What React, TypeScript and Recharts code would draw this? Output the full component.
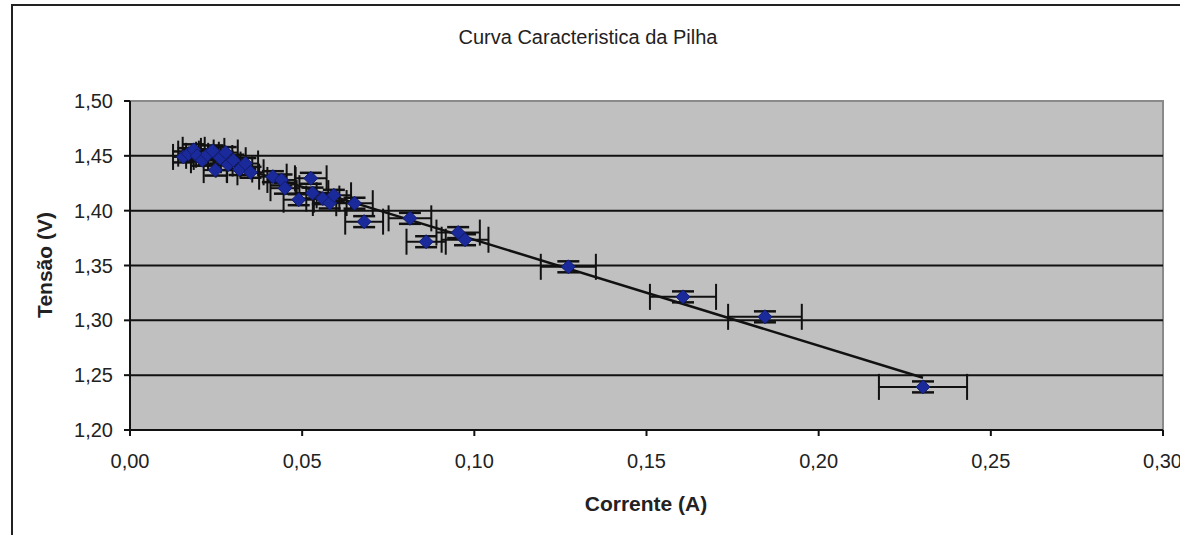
import React from 'react';
import {
  ScatterChart,
  Scatter,
  XAxis,
  YAxis,
  CartesianGrid,
  ErrorBar,
  ReferenceLine,
  ReferenceArea,
} from 'recharts';

// ---- data ----
const current = [
  0.0155, 0.017, 0.0185, 0.0195, 0.021, 0.0225, 0.024, 0.0248, 0.0262, 0.0278,
  0.0285, 0.03, 0.0318, 0.0335, 0.035, 0.0415, 0.044, 0.045, 0.049, 0.0525,
  0.053, 0.056, 0.058, 0.0592, 0.0652, 0.068, 0.0813, 0.086, 0.0953, 0.0973,
  0.1273, 0.1606, 0.1844, 0.2303,
];
const voltage = [
  1.449, 1.452, 1.4555, 1.45, 1.446, 1.451, 1.4545, 1.437, 1.448, 1.453,
  1.442, 1.446, 1.4375, 1.443, 1.435, 1.431, 1.428, 1.4205, 1.41, 1.4295,
  1.416, 1.411, 1.407, 1.414, 1.4068, 1.39, 1.393, 1.3717, 1.38, 1.3735,
  1.3488, 1.3214, 1.3032, 1.2393,
];
const currentError = [
  0.003, 0.003, 0.0032, 0.0032, 0.0033, 0.0033, 0.0034, 0.0034, 0.0035, 0.0035,
  0.0036, 0.0036, 0.0037, 0.0037, 0.0038, 0.004, 0.0041, 0.0042, 0.0044, 0.0046,
  0.0046, 0.0048, 0.0049, 0.005, 0.0053, 0.0055, 0.0062, 0.0057, 0.0063, 0.0068,
  0.008, 0.0096, 0.0107, 0.0128,
];
const voltageError = [0.005];
const trendCurrent = [0.0155, 0.2303];
const trendVoltage = [1.4551, 1.2476];
const xTicks = [0, 0.05, 0.1, 0.15, 0.2, 0.25, 0.3];
const yTicks = [1.2, 1.25, 1.3, 1.35, 1.4, 1.45, 1.5];
const gridValues = [1.25, 1.3, 1.35, 1.4, 1.45];
const title = 'Curva Caracteristica da Pilha';
const xLabel = 'Corrente (A)';
const yLabel = 'Tensão (V)';

const points = current.map((x, i) => ({
  x,
  y: voltage[i],
  ex: currentError[i],
  ey: voltageError[0],
}));
const trend = trendCurrent.map((x, i) => ({ x, y: trendVoltage[i] }));

const FONT = '"Liberation Sans", Arial, Helvetica, sans-serif';
const fmt = (v: number) => v.toFixed(2).replace('.', ',');

const Diamond = (props: any) => {
  const { cx, cy } = props;
  if (cx == null || cy == null) return <g />;
  const r = 7;
  return (
    <path
      d={`M${cx},${cy - r} L${cx + r},${cy} L${cx},${cy + r} L${cx - r},${cy} Z`}
      fill="#1b2a9a"
      stroke="#121c70"
      strokeWidth={1}
    />
  );
};

const NoShape = () => <g />;

export default function App() {
  return (
    <div
      style={{
        position: 'fixed',
        left: 0,
        top: 0,
        width: 1180,
        height: 535,
        overflow: 'hidden',
        background: '#fff',
        fontFamily: FONT,
      }}
    >
      <div
        style={{
          position: 'absolute',
          left: 11,
          top: 4,
          width: 1300,
          height: 700,
          border: '2px solid #222',
          boxSizing: 'border-box',
        }}
      />
      <div style={{ position: 'absolute', left: 0, top: 0 }}>
        <ScatterChart
          width={1180}
          height={535}
          margin={{ top: 101, right: 17, bottom: 45, left: 0 }}
        >
          <CartesianGrid fill="#c0c0c0" horizontal={false} vertical={false} />
          <ReferenceArea
            x1={0}
            x2={0.3}
            y1={1.2}
            y2={1.5}
            fill="#c0c0c0"
            fillOpacity={1}
            stroke="#8a8a8a"
            strokeWidth={2}
          />
          {gridValues.map((v) => (
            <ReferenceLine key={v} y={v} stroke="#111" strokeWidth={2} />
          ))}
          <XAxis
            type="number"
            dataKey="x"
            domain={[0, 0.3]}
            ticks={xTicks}
            tickFormatter={fmt}
            height={60}
            tickSize={6}
            tickMargin={18}
            stroke="#111"
            strokeWidth={2}
            tick={{ fill: '#222', fontSize: 20, fontFamily: FONT }}
            allowDataOverflow
          />
          <YAxis
            type="number"
            dataKey="y"
            domain={[1.2, 1.5]}
            ticks={yTicks}
            tickFormatter={fmt}
            width={130}
            tickSize={6}
            tickMargin={11}
            stroke="#111"
            strokeWidth={2}
            tick={{ fill: '#222', fontSize: 20, fontFamily: FONT }}
            allowDataOverflow
          />
          <Scatter
            data={trend}
            line={{ stroke: '#111', strokeWidth: 2.5 }}
            shape={NoShape}
            isAnimationActive={false}
            legendType="none"
          />
          <Scatter data={points} shape={Diamond} isAnimationActive={false}>
            <ErrorBar dataKey="ex" direction="x" width={13} stroke="#111" strokeWidth={2} />
            <ErrorBar dataKey="ey" direction="y" width={11} stroke="#111" strokeWidth={2.5} />
          </Scatter>
        </ScatterChart>
      </div>
      <svg
        width={1180}
        height={535}
        style={{ position: 'absolute', left: 0, top: 0, pointerEvents: 'none' }}
      >
        <text x={588} y={44} textAnchor="middle" fontSize={20} fill="#222" fontFamily={FONT}>
          {title}
        </text>
        <text x={646} y={511} textAnchor="middle" fontSize={21} fontWeight="bold" fill="#222" fontFamily={FONT}>
          {xLabel}
        </text>
        <text
          x={52}
          y={265}
          textAnchor="middle"
          fontSize={21}
          fontWeight="bold"
          fill="#222"
          fontFamily={FONT}
          transform="rotate(-90 52 265)"
        >
          {yLabel}
        </text>
      </svg>
    </div>
  );
}
